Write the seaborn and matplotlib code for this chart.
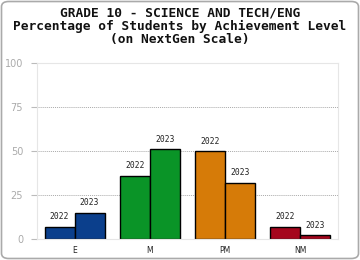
import matplotlib
matplotlib.use("Agg")
import matplotlib.pyplot as plt
import seaborn as sns
import pandas as pd
from matplotlib.patches import FancyBboxPatch

categories = ["E", "M", "PM", "NM"]
years = ["2022", "2023"]
values_2022 = [7, 36, 50, 7]
values_2023 = [15, 51, 32, 2]
colors = ["#0b3f8c", "#0a9427", "#d67b08", "#a5061d"]
yticks = [0, 25, 50, 75, 100]

df = pd.DataFrame({
    "cat": categories * 2,
    "year": [years[0]] * 4 + [years[1]] * 4,
    "val": values_2022 + values_2023,
})

sns.set_style("white")
fig = plt.figure(figsize=(3.6, 2.6), dpi=100)
ax = fig.add_axes([37/360, 1-239/260, 301/360, 176/260])

sns.barplot(data=df, x="cat", y="val", hue="year", order=categories,
            hue_order=years, ax=ax, width=0.8, edgecolor="black",
            linewidth=1.0, legend=False, errorbar=None)

for container in ax.containers:
    for i, bar in enumerate(container):
        bar.set_facecolor(colors[i])

for ci, container in enumerate(ax.containers):
    for bar in container:
        h = bar.get_height()
        ax.text(bar.get_x() + bar.get_width()/2, h + 3, years[ci],
                ha="center", va="bottom", fontsize=5.8,
                family="DejaVu Sans Mono", color="#222222")

ax.set_ylim(0, 100)
ax.set_xlim(-0.5, 3.5)
ax.set_yticks(yticks)
ax.set_yticklabels([str(t) for t in yticks], fontsize=7, color="#aaaaaa")
ax.tick_params(axis="y", length=4, color="#bbbbbb", width=0.8, pad=6, left=True)
ax.tick_params(axis="x", length=0, labelsize=5.5, pad=5, labelcolor="#222222")
ax.set_xlabel("")
ax.set_ylabel("")
for t in [25, 50, 75]:
    ax.axhline(t, color="#aaaaaa", linestyle=(0, (1, 1)), linewidth=0.7, zorder=0)
for s in ax.spines.values():
    s.set_color("#e6e6e6")
    s.set_linewidth(0.8)

for i, line in enumerate(["GRADE 10 - SCIENCE AND TECH/ENG",
                          "Percentage of Students by Achievement Level",
                          "(on NextGen Scale)"]):
    fig.text(0.5, 1-(13+13*i)/260, line, ha="center", va="center",
             fontsize=9.3, weight="bold", family="DejaVu Sans Mono", color="#111111")

frame = FancyBboxPatch((1.5/360, 1.5/260), 357/360, 257/260,
                       boxstyle="round,pad=0,rounding_size=0.02",
                       transform=fig.transFigure, fill=False,
                       edgecolor="#aaaaaa", linewidth=1.2)
fig.patches.append(frame)

fig.savefig("out.png", dpi=100)
